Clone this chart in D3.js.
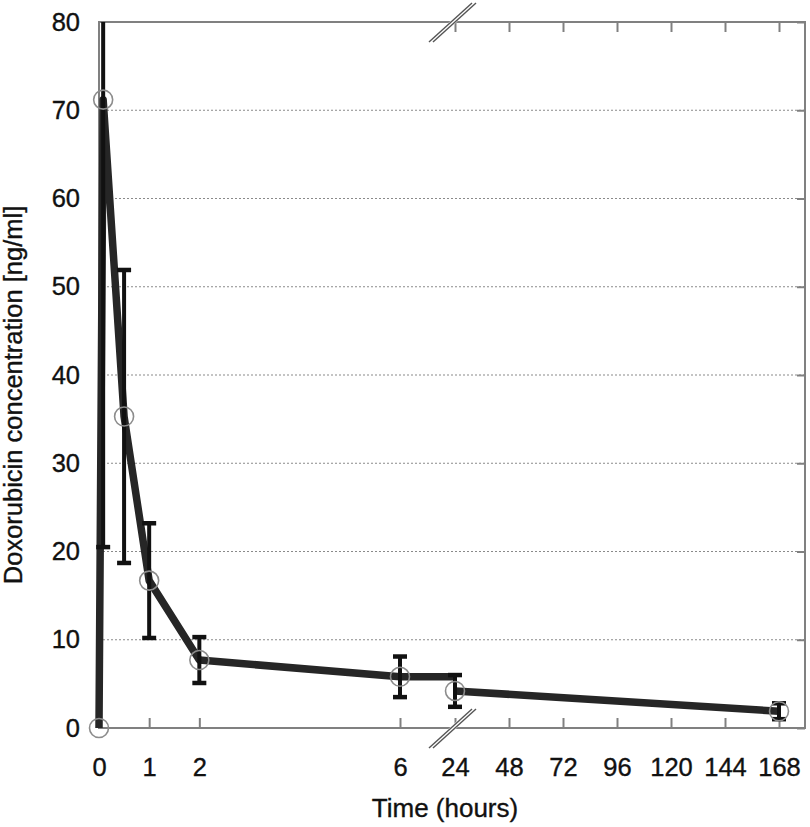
<!DOCTYPE html>
<html>
<head>
<meta charset="utf-8">
<script src="https://cdn.jsdelivr.net/npm/d3@7"></script>
<style>
  body { margin: 0; background: #fff; }
  text { font-family: "Liberation Sans", Arial, sans-serif; fill: #111; stroke: #111; stroke-width: 0.35px; }
</style>
</head>
<body>
<div id="chart"></div>
<script>
// sampling times (hours), mean concentration and SD
const times = [0, 0.083, 0.5, 1, 2, 6, 24, 168];
const means = [0, 71.2, 35.3, 16.7, 7.7, 5.8, 4.2, 1.9];
const sds   = [0, 50.7, 16.6, 6.5, 2.6, 2.3, 1.8, 0.9];

// axis ticks
const xTicks = [0, 1, 2, 6, 24, 48, 72, 96, 120, 144, 168];
const xTicksRight = [24, 48, 72, 96, 120, 144, 168];
const yTicks = [0, 10, 20, 30, 40, 50, 60, 70, 80];
const gridTicks = [10, 20, 30, 40, 50, 60, 70];

const W = 810, H = 827;
const m = {left: 99, top: 22};
const pw = 706, ph = 706;

const svg = d3.select("#chart").append("svg")
  .attr("width", W).attr("height", H);

const g = svg.append("g").attr("transform", "translate(" + m.left + "," + m.top + ")");

// broken time axis: 0-6 h stretched, then 24-168 h compressed
const x = d3.scaleLinear().domain([0, 6, 24, 168]).range([0, 301, 356, 680]);
const y = d3.scaleLinear().domain([0, 80]).range([ph, 0]);

const axisColor = "#808080";

// dotted grid
g.selectAll(".grid").data(gridTicks).enter().append("line")
  .attr("x1", 0).attr("x2", pw)
  .attr("y1", d => y(d)).attr("y2", d => y(d))
  .attr("stroke", "#8a8a8a").attr("stroke-width", 1.2)
  .attr("stroke-dasharray", "2,2");

// frame
g.append("rect").attr("x", 0).attr("y", 0).attr("width", pw).attr("height", ph)
  .attr("fill", "none").attr("stroke", axisColor).attr("stroke-width", 2);

// bottom axis (ticks point inward)
const xAxis = g.append("g").attr("transform", "translate(0," + ph + ")")
  .call(d3.axisBottom(x).tickValues(xTicks).tickFormat(d3.format("d"))
    .tickSize(-10).tickPadding(30));
// top ticks for the right-hand part
const xTop = g.append("g")
  .call(d3.axisTop(x).tickValues(xTicksRight).tickFormat("").tickSize(-10));
// left labels
const yAxis = g.append("g")
  .call(d3.axisLeft(y).tickValues(yTicks).tickSize(0).tickPadding(19));
// right ticks
const yRight = g.append("g").attr("transform", "translate(" + pw + ",0)")
  .call(d3.axisRight(y).tickValues(yTicks).tickFormat("").tickSize(-8));

[xAxis, xTop, yAxis, yRight].forEach(a => {
  a.select(".domain").remove();
  a.selectAll(".tick line").attr("stroke", axisColor).attr("stroke-width", 2);
  a.selectAll(".tick text").attr("font-size", 25.5).attr("fill", "#111");
});

// break marks on the time axis
const bx = x(24) - 3;
[0, ph].forEach(by => {
  const bk = g.append("g").attr("transform", "translate(" + bx + "," + by + ")");
  bk.append("line").attr("x1", -21).attr("y1", 20).attr("x2", 22).attr("y2", -19)
    .attr("stroke", "#fff").attr("stroke-width", 5);
  [-2, 2].forEach(o => {
    bk.append("line").attr("x1", -21 + o).attr("y1", 20).attr("x2", 22 + o).attr("y2", -19)
      .attr("stroke", "#555").attr("stroke-width", 1.4);
  });
});

// clip at the top of the plot
svg.append("defs").append("clipPath").attr("id", "clip")
  .append("rect").attr("x", -m.left).attr("y", 0).attr("width", W).attr("height", H);

const plot = g.append("g").attr("clip-path", "url(#clip)");

const pts = times.map((t, i) => ({t: t, c: means[i], sd: sds[i]}));
const left = pts.filter(d => d.t <= 6);
const right = pts.filter(d => d.t >= 24);
// the early-phase line runs on at its last level up to the axis break
left.push({t: 24, c: left[left.length - 1].c});

const line = d3.line().x(d => x(d.t)).y(d => y(d.c));
[left, right].forEach(seg => {
  plot.append("path").datum(seg).attr("d", line)
    .attr("fill", "none").attr("stroke", "#262626").attr("stroke-width", 7.5)
    .attr("stroke-linejoin", "round");
});

// error bars
const eb = plot.selectAll(".eb").data(pts.filter(d => d.sd > 0)).enter().append("g");
eb.append("line")
  .attr("x1", d => x(d.t)).attr("x2", d => x(d.t))
  .attr("y1", d => y(d.c + d.sd)).attr("y2", d => y(d.c - d.sd))
  .attr("stroke", "#111").attr("stroke-width", 4);
eb.selectAll(".cap").data(d => [[d.t, d.c + d.sd], [d.t, d.c - d.sd]]).enter().append("line")
  .attr("x1", d => x(d[0]) - 7).attr("x2", d => x(d[0]) + 7)
  .attr("y1", d => y(d[1])).attr("y2", d => y(d[1]))
  .attr("stroke", "#111").attr("stroke-width", 4.5);

// open markers
plot.selectAll(".pt").data(pts).enter().append("circle")
  .attr("cx", d => x(d.t)).attr("cy", d => y(d.c)).attr("r", 9.5)
  .attr("fill", "none").attr("stroke", "#8c8c8c").attr("stroke-width", 1.6);

// axis titles
svg.append("text")
  .attr("x", m.left + x(6) + 45).attr("y", 817)
  .attr("text-anchor", "middle").attr("font-size", 26)
  .text("Time (hours)");

svg.append("text")
  .attr("transform", "translate(22," + (m.top + 373) + ") rotate(-90)")
  .attr("text-anchor", "middle").attr("font-size", 25.5)
  .text("Doxorubicin concentration [ng/ml]");
</script>
</body>
</html>
